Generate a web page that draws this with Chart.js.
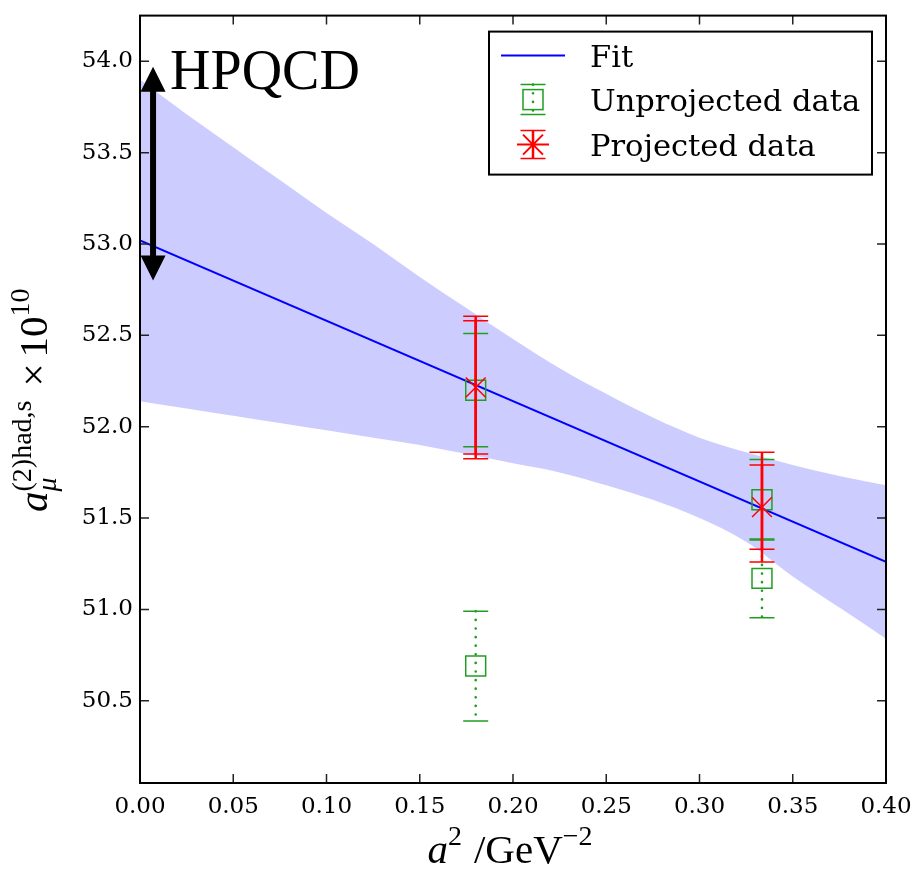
<!DOCTYPE html>
<html>
<head>
<meta charset="utf-8">
<title>a_mu (2)had,s continuum fit</title>
<script src="https://cdn.jsdelivr.net/npm/chart.js@4.4.1/dist/chart.umd.min.js"></script>
<style>
  html, body { margin: 0; padding: 0; background: #fff; }
</style>
</head>
<body>
<canvas id="fitChart" width="918" height="870"></canvas>
<script>
// a^2 in GeV^-2 on x, a_mu contribution (x 10^10) on y
const xTicks = [0.00, 0.05, 0.10, 0.15, 0.20, 0.25, 0.30, 0.35, 0.40];
const yTicks = [50.5, 51.0, 51.5, 52.0, 52.5, 53.0, 53.5, 54.0];

// straight-line fit and its 1-sigma band
const fitX = [0.0, 0.40];
const fitY = [53.02, 51.26];

const bandX = [0, 0.025, 0.05, 0.075, 0.10, 0.125, 0.15, 0.175, 0.20, 0.225, 0.25, 0.275, 0.30, 0.325, 0.35, 0.375, 0.40];
const bandUpper = [53.90, 53.71, 53.53, 53.35, 53.17, 53.00, 52.82, 52.65, 52.48, 52.32, 52.18, 52.05, 51.94, 51.86, 51.79, 51.73, 51.68];
const bandLower = [52.14, 52.10, 52.06, 52.02, 51.98, 51.94, 51.90, 51.85, 51.80, 51.75, 51.68, 51.60, 51.50, 51.37, 51.18, 51.01, 50.84];

// ensembles
const ensX = [0.18, 0.3335];
const unprojY = [50.69, 51.17];
const unprojErr = [0.30, 0.215];
const unprojSolidY = [52.20, 51.60];
const unprojSolidErr = [0.31, 0.22];
const projY = [52.215, 51.56];
const projErrStat = [0.365, 0.23];
const projErrTot = [0.39, 0.30];

// HPQCD range shown as arrow
const hpqcdX = 0.007;
const hpqcdLow = 52.80;
const hpqcdHigh = 53.97;

const green = '#1f9e1f';
const red = '#ff0000';
const blue = '#0000ff';
const tickFont = '"DejaVu Serif", serif';
const mathFont = '"Liberation Serif", "DejaVu Serif", serif';

function errorBar(ctx, px, yTop, yBot, color, width, dash) {
  ctx.save();
  ctx.strokeStyle = color;
  ctx.lineWidth = width;
  if (dash) {
    ctx.setLineDash(dash);
    ctx.lineCap = 'round';
  }
  ctx.beginPath();
  ctx.moveTo(px, yTop);
  ctx.lineTo(px, yBot);
  ctx.stroke();
  ctx.setLineDash([]);
  ctx.lineCap = 'butt';
  ctx.lineWidth = 1.5;
  ctx.beginPath();
  ctx.moveTo(px - 12.5, yTop); ctx.lineTo(px + 12.5, yTop);
  ctx.moveTo(px - 12.5, yBot); ctx.lineTo(px + 12.5, yBot);
  ctx.stroke();
  ctx.restore();
}

function drawBars(chart, ys, errs, color, width, dash) {
  const {ctx, scales: {x, y}} = chart;
  ensX.forEach((v, i) => {
    errorBar(ctx, x.getPixelForValue(v), y.getPixelForValue(ys[i] + errs[i]),
      y.getPixelForValue(ys[i] - errs[i]), color, width, dash);
  });
}

const errorBars = {
  id: 'errorBars',
  beforeDatasetsDraw(chart) {
    drawBars(chart, unprojY, unprojErr, green, 2.6, [0.1, 8.5]);
    drawBars(chart, unprojSolidY, unprojSolidErr, green, 1.5);
  },
  afterDatasetDraw(chart, args) {
    if (args.index !== 3) return;
    drawBars(chart, projY, projErrTot, red, 2.5);
    drawBars(chart, projY, projErrStat, red, 2.5);
  }
};

const hpqcdArrow = {
  id: 'hpqcdArrow',
  afterDatasetsDraw(chart) {
    const {ctx, scales: {x, y}} = chart;
    const px = x.getPixelForValue(hpqcdX);
    const top = y.getPixelForValue(hpqcdHigh);
    const bot = y.getPixelForValue(hpqcdLow);
    const head = 25, half = 12.5;
    ctx.save();
    ctx.fillStyle = '#000';
    ctx.fillRect(px - 3, top + head - 1, 6, bot - top - 2 * head + 2);
    ctx.beginPath();
    ctx.moveTo(px, top); ctx.lineTo(px + half, top + head); ctx.lineTo(px - half, top + head);
    ctx.closePath();
    ctx.moveTo(px, bot); ctx.lineTo(px + half, bot - head); ctx.lineTo(px - half, bot - head);
    ctx.closePath();
    ctx.fill();
    ctx.font = '56px ' + mathFont;
    ctx.textBaseline = 'alphabetic';
    ctx.fillText('HPQCD', px + 17, top + 22);
    ctx.restore();
  }
};

const frameTicks = {
  id: 'frameTicks',
  afterDraw(chart) {
    const {ctx, chartArea: a, scales: {x, y}} = chart;
    ctx.save();
    ctx.strokeStyle = '#222';
    ctx.lineWidth = 1.5;
    ctx.beginPath();
    xTicks.forEach(v => {
      const p = x.getPixelForValue(v);
      ctx.moveTo(p, a.bottom); ctx.lineTo(p, a.bottom - 9);
      ctx.moveTo(p, a.top); ctx.lineTo(p, a.top + 9);
    });
    yTicks.forEach(v => {
      const p = y.getPixelForValue(v);
      ctx.moveTo(a.left, p); ctx.lineTo(a.left + 9, p);
      ctx.moveTo(a.right, p); ctx.lineTo(a.right - 9, p);
    });
    ctx.stroke();
    ctx.strokeStyle = '#000';
    ctx.lineWidth = 2;
    ctx.strokeRect(a.left, a.top, a.right - a.left, a.bottom - a.top);
    ctx.restore();
  }
};

// math-style text: pieces run left to right, sub/sup pairs share a start;
// a number in place of a piece is extra spacing in px
function mathRun(ctx, pieces, x0, y0, measureOnly) {
  let cx = x0;
  for (const p of pieces) {
    if (typeof p === 'number') { cx += p; continue; }
    let adv = 0;
    for (const part of p) {
      ctx.font = part.font;
      if (!measureOnly) ctx.fillText(part.text, cx, y0 + (part.dy || 0));
      adv = Math.max(adv, ctx.measureText(part.text).width);
    }
    cx += adv;
  }
  return cx - x0;
}

const axisTitles = {
  id: 'axisTitles',
  afterDraw(chart) {
    const {ctx} = chart;
    const big = '41px ' + mathFont, bigIt = 'italic 41px ' + mathFont;
    const small = '28px ' + mathFont, smallIt = 'italic 28px ' + mathFont;
    ctx.save();
    ctx.fillStyle = '#000';
    ctx.textBaseline = 'alphabetic';

    const xPieces = [
      [{text: 'a', font: bigIt}],
      [{text: '2', font: small, dy: -18}],
      12,
      [{text: '/GeV', font: big}],
      [{text: '\u22122', font: small, dy: -18}]
    ];
    const w = mathRun(ctx, xPieces, 0, 0, true);
    mathRun(ctx, xPieces, 510 - w / 2, 863);

    const yPieces = [
      [{text: 'a', font: bigIt}],
      [{text: '(2)had,s', font: small, dy: -16}, {text: '\u03bc', font: smallIt, dy: 9}],
      14,
      [{text: '\u00d7', font: big}],
      6,
      [{text: '10', font: big}],
      [{text: '10', font: small, dy: -18}]
    ];
    ctx.translate(47, 512);
    ctx.rotate(-Math.PI / 2);
    mathRun(ctx, yPieces, 0, 0);
    ctx.restore();
  }
};

const legendBox = {
  id: 'legendBox',
  afterDraw(chart) {
    const {ctx, chartArea: a} = chart;
    const left = a.right - 397, top = a.top + 16, w = 383, h = 143;
    const hx = left + 44;
    ctx.save();
    ctx.fillStyle = '#fff';
    ctx.fillRect(left, top, w, h);
    ctx.strokeStyle = '#000';
    ctx.lineWidth = 2;
    ctx.strokeRect(left, top, w, h);

    // Fit
    ctx.strokeStyle = blue;
    ctx.lineWidth = 2;
    ctx.beginPath();
    ctx.moveTo(left + 12, top + 24); ctx.lineTo(left + 76, top + 24);
    ctx.stroke();

    // Unprojected
    const uy = top + 68;
    errorBar(ctx, hx, uy - 15, uy + 15, green, 2.6, [0.1, 8.5]);
    ctx.strokeStyle = green;
    ctx.lineWidth = 1.5;
    ctx.strokeRect(hx - 10, uy - 10, 20, 20);

    // Projected
    const py = top + 113;
    errorBar(ctx, hx, py - 14, py + 14, red, 2.5);
    ctx.strokeStyle = red;
    ctx.lineWidth = 2;
    ctx.beginPath();
    ctx.moveTo(hx - 16, py); ctx.lineTo(hx + 16, py);
    ctx.moveTo(hx - 10, py - 10); ctx.lineTo(hx + 10, py + 10);
    ctx.moveTo(hx - 10, py + 10); ctx.lineTo(hx + 10, py - 10);
    ctx.stroke();

    ctx.fillStyle = '#000';
    ctx.font = '30.5px ' + tickFont;
    ctx.textBaseline = 'alphabetic';
    ctx.fillText('Fit', left + 101, top + 35);
    ctx.fillText('Unprojected data', left + 101, top + 79.5);
    ctx.fillText('Projected data', left + 101, top + 124.5);
    ctx.restore();
  }
};

new Chart(document.getElementById('fitChart'), {
  type: 'scatter',
  data: {
    datasets: [
      {
        data: bandX.map((v, i) => ({x: v, y: bandUpper[i]})),
        showLine: true, pointRadius: 0, borderWidth: 1, cubicInterpolationMode: 'monotone',
        borderColor: 'rgba(0,0,0,0)', fill: false, order: 5
      },
      {
        data: bandX.map((v, i) => ({x: v, y: bandLower[i]})),
        showLine: true, pointRadius: 0, borderWidth: 1, cubicInterpolationMode: 'monotone',
        borderColor: 'rgba(0,0,0,0)', backgroundColor: 'rgba(0,0,255,0.2)',
        fill: '-1', order: 4
      },
      {
        data: fitX.map((v, i) => ({x: v, y: fitY[i]})),
        showLine: true, pointRadius: 0, borderColor: blue, borderWidth: 2, order: 3
      },
      {
        data: ensX.map((v, i) => ({x: v, y: unprojY[i]}))
          .concat(ensX.map((v, i) => ({x: v, y: unprojSolidY[i]}))),
        pointStyle: 'rect', pointRadius: 14.1, pointBorderWidth: 1.5,
        borderColor: green, backgroundColor: 'rgba(0,0,0,0)', order: 2
      },
      {
        data: ensX.map((v, i) => ({x: v, y: projY[i]})),
        pointStyle: 'crossRot', pointRadius: 14, pointBorderWidth: 1.5,
        borderColor: red, backgroundColor: red, order: 1
      }
    ]
  },
  options: {
    responsive: false,
    animation: false,
    devicePixelRatio: 1,
    events: [],
    layout: { padding: { left: 0, right: 32, top: 13, bottom: 0 } },
    plugins: {
      legend: { display: false },
      tooltip: { enabled: false },
      filler: { propagate: false, drawTime: 'beforeDatasetsDraw' }
    },
    scales: {
      x: {
        type: 'linear', min: 0, max: 0.40,
        grid: { display: false, drawTicks: false },
        border: { display: false },
        afterBuildTicks: s => { s.ticks = xTicks.map(v => ({value: v})); },
        afterFit: s => { s.height = 87; s.paddingLeft = 0; s.paddingRight = 0; },
        ticks: {
          autoSkip: false, maxRotation: 0, padding: 10, color: '#000',
          font: { family: tickFont, size: 23 },
          callback: v => v.toFixed(2)
        }
      },
      y: {
        type: 'linear', min: 50.05, max: 54.25,
        grid: { display: false, drawTicks: false },
        border: { display: false },
        afterBuildTicks: s => { s.ticks = yTicks.map(v => ({value: v})); },
        afterFit: s => { s.width = 140; s.paddingTop = 0; s.paddingBottom = 0; },
        ticks: {
          padding: 7, color: '#000',
          font: { family: tickFont, size: 23 },
          callback: v => v.toFixed(1)
        }
      }
    }
  },
  plugins: [errorBars, hpqcdArrow, frameTicks, axisTitles, legendBox]
});
</script>
</body>
</html>
